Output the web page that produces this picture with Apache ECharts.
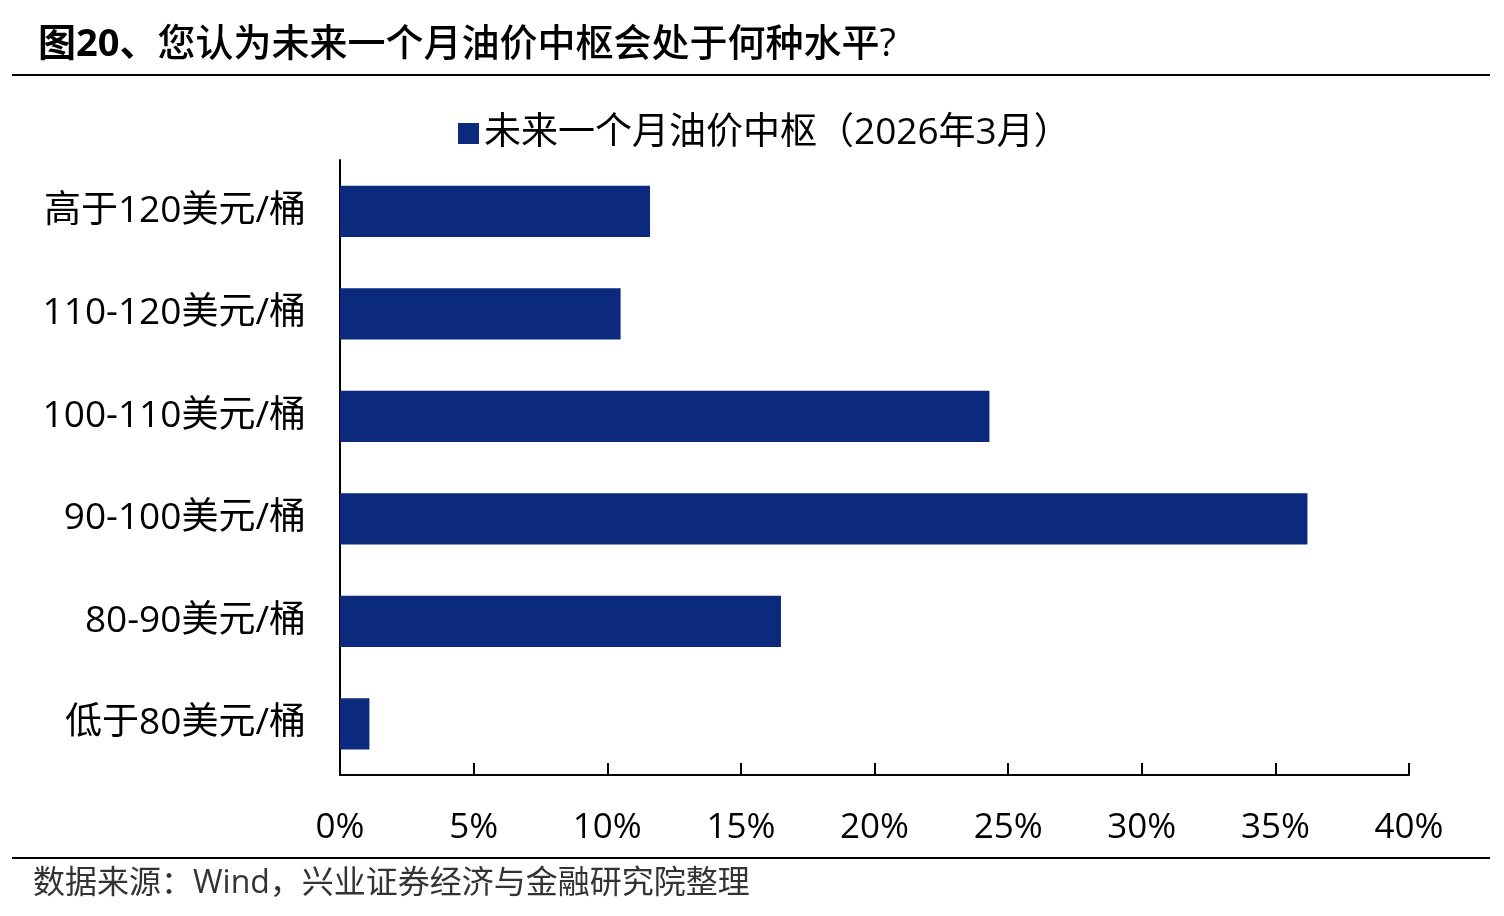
<!DOCTYPE html>
<html><head><meta charset="utf-8">
<script src="https://cdn.jsdelivr.net/npm/echarts@6/dist/echarts.min.js"></script>
<style>html,body{margin:0;padding:0;background:#fff}#c{width:1504px;height:916px}</style>
</head><body><div id="c"></div>
<script>
const categories = ['低于80美元/桶','80-90美元/桶','90-100美元/桶','100-110美元/桶','110-120美元/桶','高于120美元/桶'];
const values = [1.1, 16.5, 36.2, 24.3, 10.5, 11.6];
const seriesName = '未来一个月油价中枢（2026年3月）';
const titleHead = '图20、';
const titleRest = '您认为未来一个月油价中枢会处于何种水平?';
const sourceText = '数据来源：Wind，兴业证券经济与金融研究院整理';
const font = '"Open Sans","Noto Sans CJK SC",sans-serif';
const chart = echarts.init(document.getElementById('c'));
chart.setOption({
  animation:false,
  title:{text:'{a|'+titleHead+'}{b|'+titleRest+'}',left:33,top:21,
    textStyle:{rich:{
      a:{fontFamily:font,fontSize:38,fontWeight:'bold',color:'#000'},
      b:{fontFamily:font,fontSize:38,fontWeight:500,color:'#000'}}}},
  legend:{top:110,left:453,itemWidth:21,itemHeight:21,icon:'rect',itemGap:12,
    textStyle:{fontFamily:font,fontSize:37,color:'#000'}},
  grid:{left:340,right:95,top:160,bottom:141,containLabel:false},
  xAxis:{type:'value',min:0,max:40,interval:5,
    axisLine:{show:true,lineStyle:{color:'#000',width:2}},
    axisTick:{show:true,inside:true,length:12,lineStyle:{color:'#000',width:2}},
    splitLine:{show:false},
    axisLabel:{formatter:'{value}%',margin:36,fontFamily:font,fontSize:35,color:'#000'}},
  yAxis:{type:'category',data:categories,
    axisLine:{show:true,lineStyle:{color:'#000',width:2}},
    axisTick:{show:false},
    axisLabel:{margin:34,fontFamily:font,fontSize:37,color:'#000'}},
  series:[{name:seriesName,type:'bar',data:values,barWidth:'50%',itemStyle:{color:'#0b2a7e'}}],
  graphic:[
    {type:'line',shape:{x1:12,y1:75,x2:1490,y2:75},style:{stroke:'#000',lineWidth:2}},
    {type:'line',shape:{x1:12,y1:858,x2:1490,y2:858},style:{stroke:'#000',lineWidth:2}},
    {type:'text',left:33,top:868,style:{text:sourceText,font:'32px '+font,fill:'#333'}}
  ]
});
</script></body></html>
